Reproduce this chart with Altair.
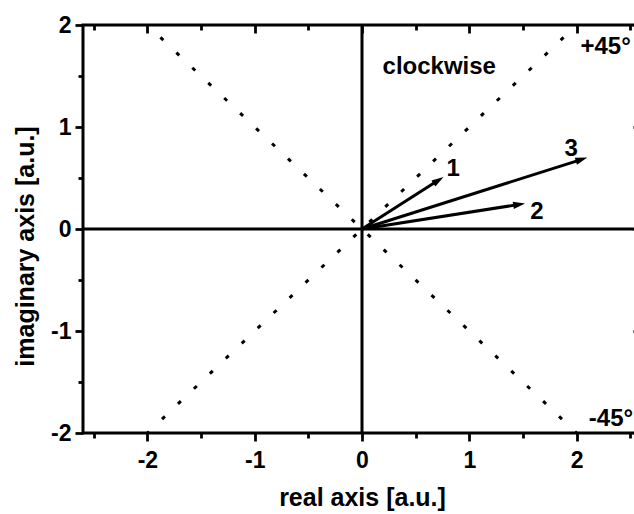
import math

import altair as alt
import pandas as pd

FONT = "Liberation Sans"

# axis ranges and tick positions
x_domain = [-2.6, 2.6]
y_domain = [-2, 2]
major_ticks_x = [-2, -1, 0, 1, 2]
minor_ticks_x = [-2.5, -1.5, -0.5, 0.5, 1.5, 2.5]
major_ticks_y = [-2, -1, 0, 1, 2]
minor_ticks_y = [-1.5, -0.5, 0.5, 1.5]

# the +45° / -45° guide lines (start and end points, drawn from the top down)
guide_x0 = [2, -2]
guide_y0 = [2, 2]
guide_x1 = [-2, 2]
guide_y1 = [-2, -2]

# phasors drawn from the origin, with their number labels
vec_id = ["1", "2", "3"]
vec_re = [0.76, 1.52, 2.10]
vec_im = [0.51, 0.25, 0.70]
label_re = [0.85, 1.63, 1.95]
label_im = [0.52, 0.10, 0.72]

# free annotations
note_text = ["clockwise", "+45°", "-45°"]
note_re = [0.72, 2.27, 2.32]
note_im = [1.52, 1.72, -1.93]

# plot area in pixels
W, H = 558, 408
kx = W / (x_domain[1] - x_domain[0])
ky = H / (y_domain[1] - y_domain[0])
HEAD_LEN = 12  # arrow head length, px

guides = pd.DataFrame({"x0": guide_x0, "y0": guide_y0, "x1": guide_x1, "y1": guide_y1})

# shafts stop a little short of the tip so the head stays pointed
shaft_x1, shaft_y1, head_angle = [], [], []
for re, im in zip(vec_re, vec_im):
    dx, dy = re * kx, im * ky
    length = math.hypot(dx, dy)
    f = 1 - (HEAD_LEN * 0.75) / length
    shaft_x1.append(re * f)
    shaft_y1.append(im * f)
    head_angle.append(math.degrees(math.atan2(-dy, dx)) % 360)

vectors = pd.DataFrame({
    "id": vec_id,
    "x0": [0.0] * len(vec_id),
    "y0": [0.0] * len(vec_id),
    "x1": shaft_x1,
    "y1": shaft_y1,
    "re": vec_re,
    "im": vec_im,
    "angle": head_angle,
})
labels = pd.DataFrame({"text": vec_id, "re": label_re, "im": label_im})
notes = pd.DataFrame({"text": note_text, "re": note_re, "im": note_im})
zero = pd.DataFrame({"v": [0.0]})

xs = alt.Scale(domain=x_domain, nice=False, zero=False)
ys = alt.Scale(domain=y_domain, nice=False, zero=False)

common = dict(domain=False, grid=False, tickColor="black", tickWidth=2.8)
label_style = dict(
    labelFont=FONT, labelFontSize=23, labelFontWeight="bold", labelColor="black",
    labelExpr="'' + datum.value",
)
title_style = dict(
    titleFont=FONT, titleFontSize=25, titleFontWeight="bold", titleColor="black",
    titleBaseline="alphabetic",
)


def bare(orient, values, size, offset=0):
    return alt.Axis(orient=orient, values=values, tickSize=size, offset=offset,
                    labels=False, title=None, **common)


bottom_major = alt.Axis(
    orient="bottom", values=major_ticks_x, tickSize=8, labelPadding=26,
    labelBaseline="alphabetic", title="real axis [a.u.]", titleY=72,
    **common, **label_style, **title_style,
)
left_major = alt.Axis(
    orient="left", values=major_ticks_y, tickSize=8, labelPadding=4,
    title="imaginary axis [a.u.]", titleX=-50, titleY=221, titleAngle=270,
    titleAlign="center",
    **common, **label_style, **title_style,
)
bottom_minor = bare("bottom", minor_ticks_x, 5)
left_minor = bare("left", minor_ticks_y, 5)
top_major = bare("top", major_ticks_x, 8, offset=-8)
top_minor = bare("top", minor_ticks_x, 5, offset=-5)
right_major = bare("right", major_ticks_y, 8, offset=-8)
right_minor = bare("right", minor_ticks_y, 5, offset=-5)

# dotted guides: a gap first, then short dashes every 22 px
guide_lines = alt.Chart(guides).mark_rule(
    color="black", strokeWidth=3, strokeDash=[4, 18], strokeDashOffset=4,
    strokeCap="butt",
).encode(
    x=alt.X("x0:Q", scale=xs, axis=bottom_major),
    y=alt.Y("y0:Q", scale=ys, axis=left_major),
    x2="x1:Q",
    y2="y1:Q",
)

zero_v = alt.Chart(zero).mark_rule(color="black", strokeWidth=3).encode(
    x=alt.X("v:Q", scale=xs, axis=None)
)
zero_h = alt.Chart(zero).mark_rule(color="black", strokeWidth=3).encode(
    y=alt.Y("v:Q", scale=ys, axis=None)
)

shafts = alt.Chart(vectors).mark_rule(color="black", strokeWidth=3).encode(
    x=alt.X("x0:Q", scale=xs, axis=bottom_minor),
    y=alt.Y("y0:Q", scale=ys, axis=left_minor),
    x2="x1:Q",
    y2="y1:Q",
)

heads = alt.Chart(vectors).mark_point(
    shape="M0,0L-2,-0.6L-2,0.6Z", filled=True, size=(HEAD_LEN / 2) ** 2 * 4,
    color="black", opacity=1, strokeWidth=0,
).encode(
    x=alt.X("re:Q", scale=xs, axis=top_major),
    y=alt.Y("im:Q", scale=ys, axis=right_major),
    angle=alt.Angle("angle:Q", scale=None),
)

text_style = dict(font=FONT, fontSize=24, fontWeight="bold", color="black",
                  align="center", baseline="alphabetic")

vec_labels = alt.Chart(labels).mark_text(**text_style).encode(
    x=alt.X("re:Q", scale=xs, axis=top_minor),
    y=alt.Y("im:Q", scale=ys, axis=right_minor),
    text="text:N",
)

note_labels = alt.Chart(notes).mark_text(**text_style).encode(
    x=alt.X("re:Q", scale=xs, axis=None),
    y=alt.Y("im:Q", scale=ys, axis=None),
    text="text:N",
)

chart = (
    alt.layer(guide_lines, zero_v, zero_h, shafts, heads, vec_labels, note_labels)
    .resolve_axis(x="independent", y="independent")
    .properties(
        width=W,
        height=H,
        padding={"left": 83, "top": 25, "right": -7, "bottom": 81},
        autosize=alt.AutoSizeParams(type="none"),
        background="white",
    )
    .configure_view(stroke="black", strokeWidth=3)
)

chart.save("out.html", embed_options={"renderer": "svg", "actions": False})
